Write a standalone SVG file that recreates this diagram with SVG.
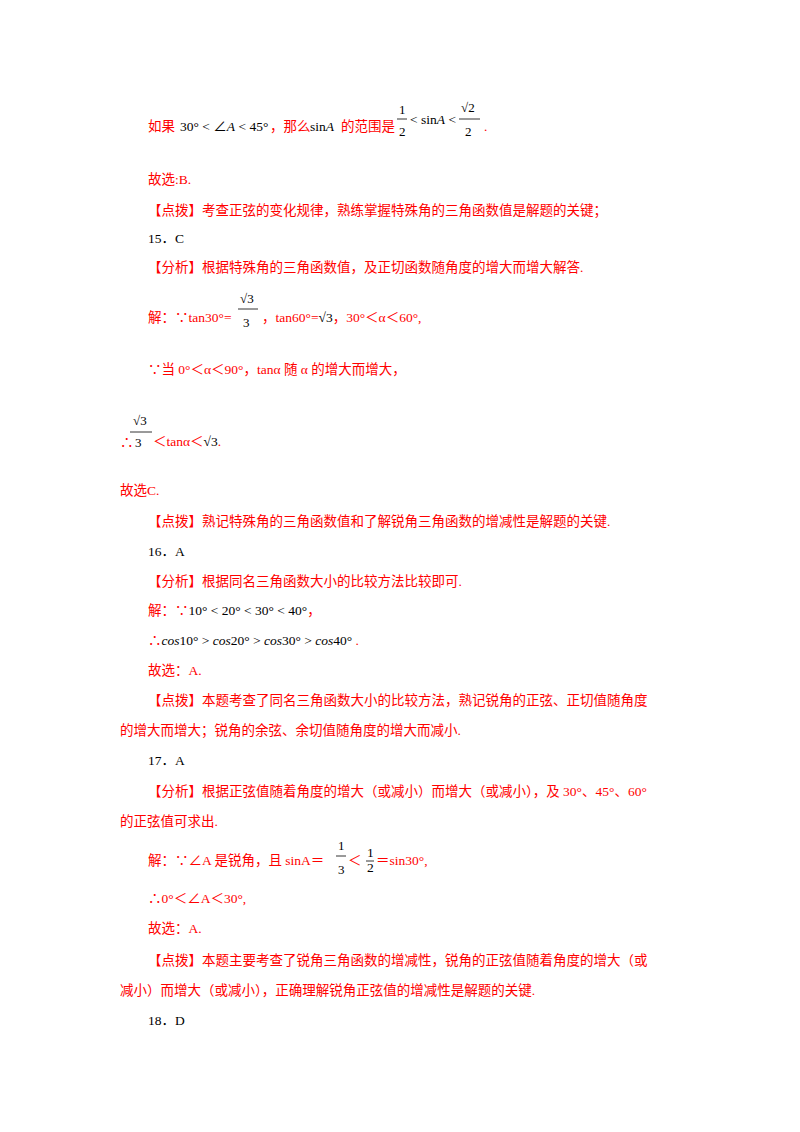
<svg xmlns="http://www.w3.org/2000/svg" width="800" height="1132" viewBox="0 0 800 1132">
<style>
text{font-family:"Liberation Serif","Noto Sans CJK SC",serif;font-size:13.5px;fill:#000}
.r{fill:#ff0000}
.s{font-size:13px}
.i{font-style:italic}
line{stroke:#000;stroke-width:0.8}
</style>
<rect width="800" height="1132" fill="#fff"/>
<g id="l1">
<text x="148" y="131" class="r">如果</text>
<text x="180" y="131">30° &lt; ∠<tspan class="i">A</tspan> &lt; 45°</text>
<text x="270" y="131" class="r">，那么</text>
<text x="310" y="131">sin<tspan class="i">A</tspan></text>
<text x="341" y="131" class="r">的范围是</text>
<text x="399" y="114" class="s">1</text><line x1="397" y1="119" x2="407" y2="119"/><text x="399" y="136" class="s">2</text>
<text x="410" y="124">&lt; sin<tspan class="i">A</tspan> &lt;</text>
<text x="461" y="112" class="s">√2</text><line x1="459" y1="119" x2="480" y2="119"/><text x="465" y="136" class="s">2</text>
<text x="484" y="131" class="r">.</text>
</g>
<text x="148" y="184" class="r">故选:B.</text>
<text x="148" y="215" class="r">【点拨】考查正弦的变化规律，熟练掌握特殊角的三角函数值是解题的关键；</text>
<text x="148" y="243">15．C</text>
<text x="148" y="272" class="r">【分析】根据特殊角的三角函数值，及正切函数随角度的增大而增大解答.</text>
<g id="l2">
<text x="148" y="322" class="r">解：∵tan30°=</text>
<text x="240" y="303" class="s">√3</text><line x1="238" y1="309" x2="258" y2="309"/><text x="243" y="327" class="s">3</text>
<text x="262" y="322" class="r">，tan60°=<tspan fill="#000">√3</tspan>，30°＜α＜60°,</text>
</g>
<text x="148" y="374" class="r">∵当 0°＜α＜90°，tanα 随 α 的增大而增大，</text>
<g id="l3">
<text x="133" y="425" class="s">√3</text><line x1="130" y1="432" x2="152" y2="432"/><text x="135" y="447" class="s">3</text>
<text x="120" y="447" class="r">∴</text>
<text x="153" y="446" class="r">＜tanα＜<tspan fill="#000">√3</tspan>.</text>
</g>
<text x="120" y="495" class="r">故选C.</text>
<text x="148" y="526" class="r">【点拨】熟记特殊角的三角函数值和了解锐角三角函数的增减性是解题的关键.</text>
<text x="148" y="556">16．A</text>
<text x="148" y="586" class="r">【分析】根据同名三角函数大小的比较方法比较即可.</text>
<text x="148" y="615"><tspan class="r">解：∵</tspan>10° &lt; 20° &lt; 30° &lt; 40°<tspan class="r">，</tspan></text>
<text x="148" y="645"><tspan class="r">∴</tspan><tspan class="i">cos</tspan>10° &gt; <tspan class="i">cos</tspan>20° &gt; <tspan class="i">cos</tspan>30° &gt; <tspan class="i">cos</tspan>40°<tspan class="r"> .</tspan></text>
<text x="148" y="675" class="r">故选：A.</text>
<text x="148" y="705" class="r">【点拨】本题考查了同名三角函数大小的比较方法，熟记锐角的正弦、正切值随角度</text>
<text x="120" y="735" class="r">的增大而增大；锐角的余弦、余切值随角度的增大而减小.</text>
<text x="148" y="765">17．A</text>
<text x="148" y="796" class="r">【分析】根据正弦值随着角度的增大（或减小）而增大（或减小），及 30°、45°、60°</text>
<text x="120" y="826" class="r">的正弦值可求出.</text>
<g id="l4">
<text x="148" y="865" class="r">解：∵∠A 是锐角，且 sinA＝</text>
<text x="338" y="850" class="s">1</text><line x1="336" y1="856" x2="346" y2="856"/><text x="338" y="874" class="s">3</text>
<text x="348" y="865" class="r">＜</text>
<text x="367" y="857" font-size="11">1</text><line x1="366" y1="861" x2="374" y2="861"/><text x="367" y="872" font-size="11">2</text>
<text x="376" y="865" class="r">＝sin30°,</text>
</g>
<text x="148" y="903" class="r">∴0°＜∠A＜30°,</text>
<text x="148" y="933" class="r">故选：A.</text>
<text x="148" y="965" class="r">【点拨】本题主要考查了锐角三角函数的增减性，锐角的正弦值随着角度的增大（或</text>
<text x="120" y="995" class="r">减小）而增大（或减小），正确理解锐角正弦值的增减性是解题的关键.</text>
<text x="148" y="1025">18．D</text>
</svg>
